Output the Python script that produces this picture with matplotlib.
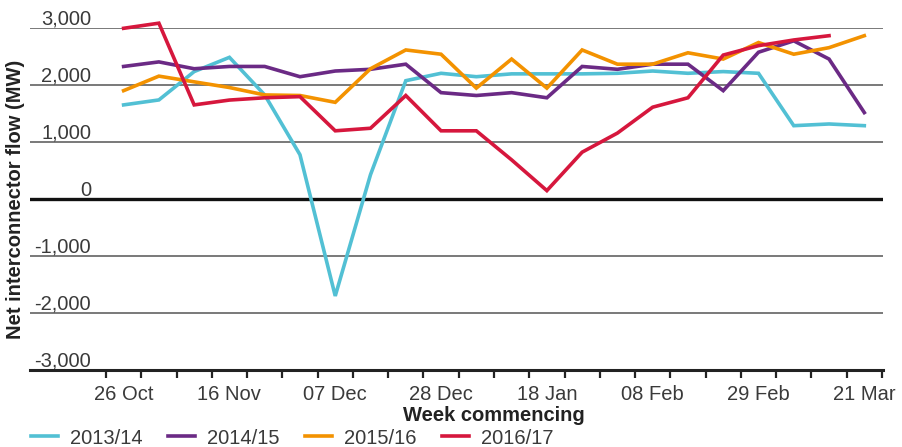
import numpy as np
import matplotlib
matplotlib.use("Agg")
import matplotlib.pyplot as plt
import matplotlib.transforms as mtransforms

plt.rcParams['font.family'] = ['Liberation Sans', 'DejaVu Sans']

# weeks (every third one gets a label)
weeks = ['26 Oct', '02 Nov', '09 Nov', '16 Nov', '23 Nov', '30 Nov', '07 Dec',
         '14 Dec', '21 Dec', '28 Dec', '04 Jan', '11 Jan', '18 Jan', '25 Jan',
         '01 Feb', '08 Feb', '15 Feb', '22 Feb', '29 Feb', '07 Mar', '14 Mar',
         '21 Mar']
shown_labels = ['26 Oct', '16 Nov', '07 Dec', '28 Dec', '18 Jan', '08 Feb',
                '29 Feb', '21 Mar']

# net interconnector flow (MW)
flow_1314 = [1655, 1742, 2240, 2490, 1830, 780, -1700, 430, 2080, 2210, 2150,
             2200, 2200, 2200, 2210, 2250, 2210, 2240, 2210, 1290, 1320, 1290]
flow_1415 = [2330, 2410, 2290, 2330, 2330, 2150, 2250, 2280, 2370, 1870, 1820,
             1870, 1780, 2330, 2280, 2370, 2370, 1905, 2580, 2780, 2460, 1520]
flow_1516 = [1905, 2160, 2060, 1960, 1830, 1820, 1700, 2290, 2620, 2545, 1950,
             2460, 1950, 2620, 2370, 2370, 2570, 2460, 2750, 2545, 2660, 2870]
flow_1617 = [3000, 3090, 1655, 1740, 1780, 1800, 1200, 1245, 1820, 1200, 1200,
             690, 150, 825, 1160, 1615, 1780, 2530, 2695, 2795, 2870]

series = [('2013/14', flow_1314, '#52C0D4'),
          ('2014/15', flow_1415, '#6B2A85'),
          ('2015/16', flow_1516, '#F39200'),
          ('2016/17', flow_1617, '#D6173D')]

fig = plt.figure(figsize=(9.02, 4.47), dpi=100)
ax = fig.add_axes([30/902, 1-370/447, 853/902, (370-28.3)/447])

for name, vals, col in series:
    ax.plot(np.arange(len(vals)), vals, color=col, lw=2.6, label=name,
            clip_on=False, solid_joinstyle='miter', zorder=3)

# y axis: gridlines with labels sitting above them, inside the plot
ax.set_ylim(-3000, 3000)
yt = np.arange(-3000, 3001, 1000)
ax.set_yticks(yt)
ax.set_yticklabels([f'{v:,}' for v in yt])
ax.tick_params(axis='y', length=0, pad=-44, labelsize=14.5, labelcolor='#3a3a3a')
off = mtransforms.ScaledTranslation(0, 0.11, fig.dpi_scale_trans)
for lab in ax.get_yticklabels():
    lab.set_horizontalalignment('right')
    lab.set_transform(lab.get_transform() + off)
for v in yt[1:]:
    if v == 0:
        ax.axhline(0, color='#111111', lw=2.4, zorder=2)
    else:
        ax.axhline(v, color='#555555', lw=1.1, zorder=1)

# x axis: category ticks between weeks, labels every third week
n = len(weeks)
ax.set_xlim(-2.654, 21.53)
ax.set_xticks([weeks.index(w) for w in shown_labels])
ax.set_xticklabels(shown_labels)
ax.set_xticks(np.arange(-0.5, n, 1.0), minor=True)
ax.tick_params(axis='x', which='major', length=0, pad=11, labelsize=14.5,
               labelcolor='#3a3a3a')
ax.tick_params(axis='x', which='minor', length=5.5, width=1.6, color='#222222',
               direction='out')

for s in ['top', 'right', 'left']:
    ax.spines[s].set_visible(False)
ax.spines['bottom'].set_color('#222222')
ax.spines['bottom'].set_linewidth(2.2)

ax.set_xlabel('Week commencing', fontsize=14.5, fontweight='bold',
              color='#222222', labelpad=2)
ax.xaxis.set_label_coords((10.5 + 2.654) / (21.53 + 2.654), -0.105)
ax.set_ylabel('Net interconnector flow (MW)', fontsize=14.5, fontweight='bold',
              color='#222222')
ax.yaxis.set_label_coords(-0.006, 0.5)

fig.legend(loc='center left', bbox_to_anchor=(31/902, 9/447), ncol=4,
           frameon=False, fontsize=14.5, handlelength=1.35, handletextpad=0.6,
           columnspacing=1.25, borderaxespad=0, borderpad=0,
           labelcolor='#3a3a3a')

fig.savefig('out.png', dpi=100)
